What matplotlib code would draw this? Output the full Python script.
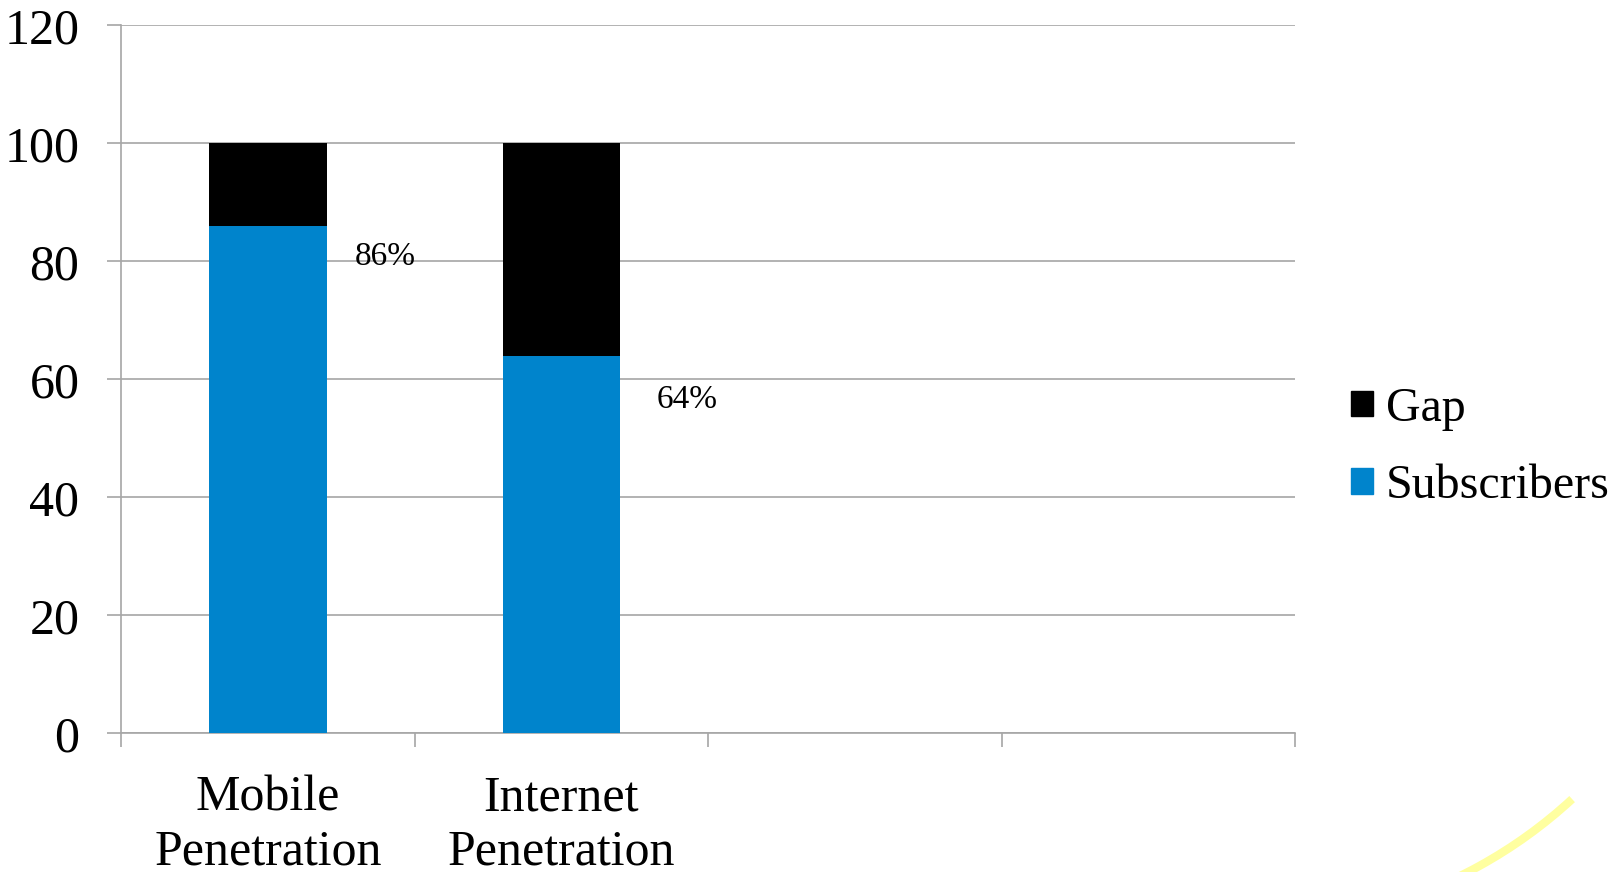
import matplotlib
matplotlib.use("Agg")
import matplotlib.pyplot as plt
from matplotlib.patches import Arc, Patch

plt.rcParams['font.family'] = ['Liberation Serif', 'DejaVu Serif']

categories = ["Mobile\nPenetration", "Internet\nPenetration", "", ""]
subscribers = [86, 64]
gap = [14, 36]
value_labels = ["86%", "64%"]
yticks = [0, 20, 40, 60, 80, 100, 120]

blue = "#0084CC"
grey = "#A6A6A6"

fig = plt.figure(figsize=(16.23, 8.72), dpi=100)
ax = fig.add_axes([0.0746, 0.159, 0.7234, 0.812])

x = list(range(len(subscribers)))
ax.bar(x, subscribers, width=0.4, color=blue, label="Subscribers", zorder=3)
ax.bar(x, gap, width=0.4, bottom=subscribers, color="black", label="Gap", zorder=3)

# data labels sit to the right of each bar, a little under the blue top
label_dx = [0.40, 0.43]
label_dy = [-5.3, -7.5]
for i, v in enumerate(subscribers):
    ax.text(i + label_dx[i], v + label_dy[i], value_labels[i], fontsize=24,
            ha="center", va="center", zorder=4)

ax.set_xlim(-0.5, len(categories) - 0.5)
ax.set_ylim(0, 120)
ax.set_yticks(yticks)
ax.yaxis.grid(True, color=grey, linewidth=1.2, zorder=0)
ax.set_axisbelow(True)

# category ticks sit on the boundaries, labels in the middle
ax.set_xticks([i - 0.5 for i in range(len(categories) + 1)])
ax.set_xticklabels([])
ax.set_xticks(range(len(categories)), minor=True)
ax.set_xticklabels(categories, minor=True, fontsize=36, linespacing=1.2)
ax.tick_params(axis="x", which="minor", length=0, pad=30)
ax.tick_params(axis="x", which="major", length=10, width=1.2, color=grey)
ax.tick_params(axis="y", length=10, width=1.2, color=grey, labelsize=36, pad=20)

for s in ["top", "right"]:
    ax.spines[s].set_visible(False)
for s in ["left", "bottom"]:
    ax.spines[s].set_color(grey)
    ax.spines[s].set_linewidth(1.2)

handles = [Patch(color="black"), Patch(color=blue)]
fig.legend(handles, ["Gap", "Subscribers"], loc="center left",
           bbox_to_anchor=(0.806, 0.487), frameon=False, fontsize=34.5,
           handlelength=0.45, handleheight=0.45, handletextpad=0.28, labelspacing=0.7)

# yellow swoosh in the corner of the slide
deco = fig.add_axes([0, 0, 1, 1], facecolor="none")
deco.set_xlim(0, 1623)
deco.set_ylim(0, 872)
deco.axis("off")
deco.add_patch(Arc((1250, 422), 950, 950, theta1=-75, theta2=-47.3,
                   color="#FFFFA0", linewidth=6))

fig.savefig("out.png", dpi=100)
